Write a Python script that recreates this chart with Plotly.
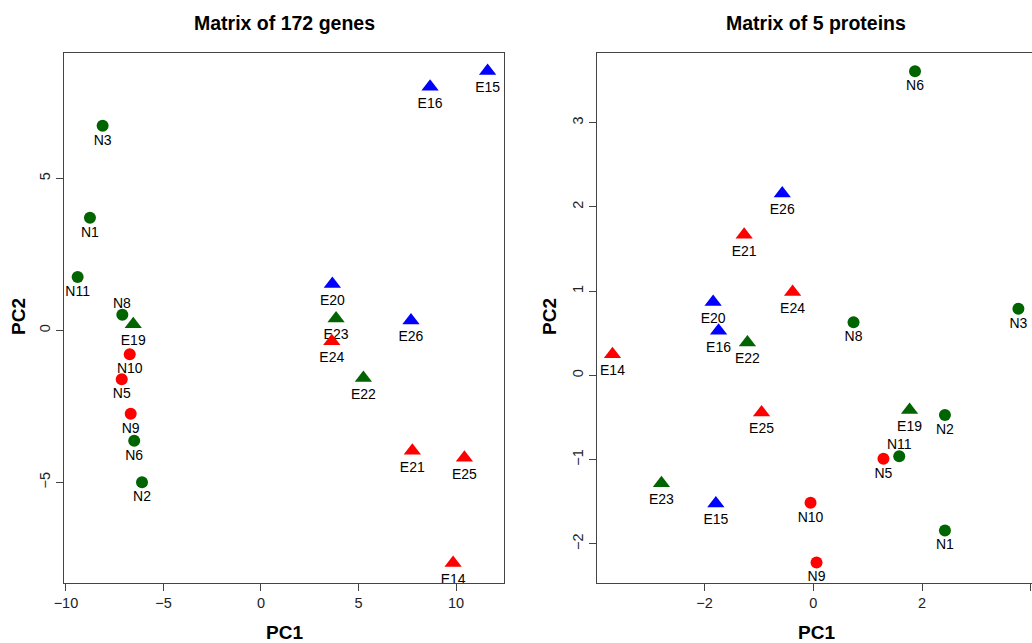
import plotly.graph_objects as go

# ---- data ----
samples = ["N1", "N2", "N3", "N5", "N6", "N8", "N9", "N10", "N11",
           "E14", "E15", "E16", "E19", "E20", "E21", "E22", "E23", "E24", "E25", "E26"]
groups = ["green", "green", "green", "red", "green", "green", "red", "red", "green",
          "red", "blue", "blue", "green", "blue", "red", "green", "green", "red", "red", "blue"]

genes_pc1 = [-8.77, -6.10, -8.12, -7.14, -6.50, -7.11, -6.68, -6.73, -9.40,
             9.85, 11.62, 8.67, -6.55, 3.66, 7.76, 5.25, 3.85, 3.63, 10.43, 7.69]
genes_pc2 = [3.70, -5.00, 6.73, -1.61, -3.63, 0.51, -2.74, -0.79, 1.75,
             -7.65, 8.53, 8.01, 0.20, 1.52, -3.96, -1.57, 0.39, -0.36, -4.19, 0.32]

prot_pc1 = [2.42, 2.42, 3.77, 1.29, 1.87, 0.74, 0.06, -0.05, 1.58,
            -3.69, -1.79, -1.74, 1.77, -1.84, -1.27, -1.21, -2.79, -0.38, -0.95, -0.57]
prot_pc2 = [-1.84, -0.47, 0.79, -0.99, 3.61, 0.63, -2.22, -1.51, -0.96,
            0.25, -1.52, 0.53, -0.41, 0.87, 1.67, 0.39, -1.28, 0.99, -0.44, 2.16]

titles = ["Matrix of 172 genes", "Matrix of 5 proteins"]
genes_xticks = [-10, -5, 0, 5, 10]
genes_yticks = [-5, 0, 5]
prot_xticks = [-2, 0, 2, 4]
prot_yticks = [-2, -1, 0, 1, 2, 3]

# ---- styles ----
color_map = {"green": "#006400", "red": "#FF0000", "blue": "#0000FF"}
labels_above = [{"N8"}, {"N11"}]
FONT = "Liberation Sans, Arial, sans-serif"
LABEL_SIZE = 14

W, H = 1032, 643
fig = go.Figure()

panels = [
    (genes_pc1, genes_pc2, "x", "y"),
    (prot_pc1, prot_pc2, "x2", "y2"),
]

ann = []
for pi, (px_, py_, xa, ya) in enumerate(panels):
    for shape_prefix, symbol, msize in (("N", "circle", 12), ("E", "triangle-up", 15)):
        for g in ("green", "red", "blue"):
            idx = [i for i, s in enumerate(samples) if s.startswith(shape_prefix) and groups[i] == g]
            if not idx:
                continue
            fig.add_trace(go.Scatter(
                x=[px_[i] for i in idx],
                y=[py_[i] for i in idx],
                text=[samples[i] if samples[i] not in labels_above[pi] else "" for i in idx],
                mode="markers+text",
                textposition="bottom center",
                textfont=dict(family=FONT, size=LABEL_SIZE, color="black"),
                marker=dict(symbol=symbol, size=msize, color=color_map[g], line=dict(width=0)),
                xaxis=xa, yaxis=ya, showlegend=False, hoverinfo="skip",
                cliponaxis=False,
            ))
    # labels drawn above their point
    for i, s in enumerate(samples):
        if s in labels_above[pi]:
            ann.append(dict(x=px_[i], y=py_[i], xref=xa, yref=ya, text=s, showarrow=False,
                            yshift=12, xanchor="center", yanchor="middle",
                            font=dict(family=FONT, size=LABEL_SIZE, color="black")))

ydom = [1 - 582.7 / H, 1 - 52.7 / H]
axis_common = dict(
    showgrid=False, zeroline=False, showline=True, linecolor="#444", linewidth=1,
    ticks="outside", ticklen=7, tickcolor="#444", tickwidth=1, automargin=False,
    tickfont=dict(family=FONT, size=14.5, color="#222"),
)

fig.update_layout(
    width=W, height=H,
    margin=dict(l=0, r=0, t=0, b=0),
    paper_bgcolor="white", plot_bgcolor="white",
    xaxis=dict(domain=[64 / W, 504 / W], range=[-10.1, 12.46], tickvals=genes_xticks,
               mirror=True, anchor="y", **axis_common),
    yaxis=dict(domain=ydom, range=[-8.3, 9.13], tickvals=genes_yticks, tickangle=-90,
               mirror=True, anchor="x", **axis_common),
    xaxis2=dict(domain=[596.7 / W, 1.0], range=[-3.98, 4.02], tickvals=prot_xticks,
                mirror=True, anchor="y2", **axis_common),
    yaxis2=dict(domain=ydom, range=[-2.46, 3.83], tickvals=prot_yticks, tickangle=-90,
                mirror=False, anchor="x2", **axis_common),
)

for cx, t in ((284, titles[0]), (816, titles[1])):
    ann.append(dict(x=cx / W, y=1 - 23 / H, xref="paper", yref="paper", text="<b>%s</b>" % t,
                    showarrow=False, font=dict(family=FONT, size=19.5, color="black"),
                    xanchor="center", yanchor="middle"))
    ann.append(dict(x=cx / W, y=1 - 632 / H, xref="paper", yref="paper", text="<b>PC1</b>",
                    showarrow=False, font=dict(family=FONT, size=19, color="black"),
                    xanchor="center", yanchor="middle"))
for cx in (18, 549):
    ann.append(dict(x=cx / W, y=1 - 317 / H, xref="paper", yref="paper", text="<b>PC2</b>",
                    showarrow=False, textangle=-90, font=dict(family=FONT, size=19, color="black"),
                    xanchor="center", yanchor="middle"))
fig.update_layout(annotations=ann)

fig.write_html("out.html", config={"displayModeBar": False},
               post_script="document.body.style.margin='0';document.body.style.overflow='hidden';")
